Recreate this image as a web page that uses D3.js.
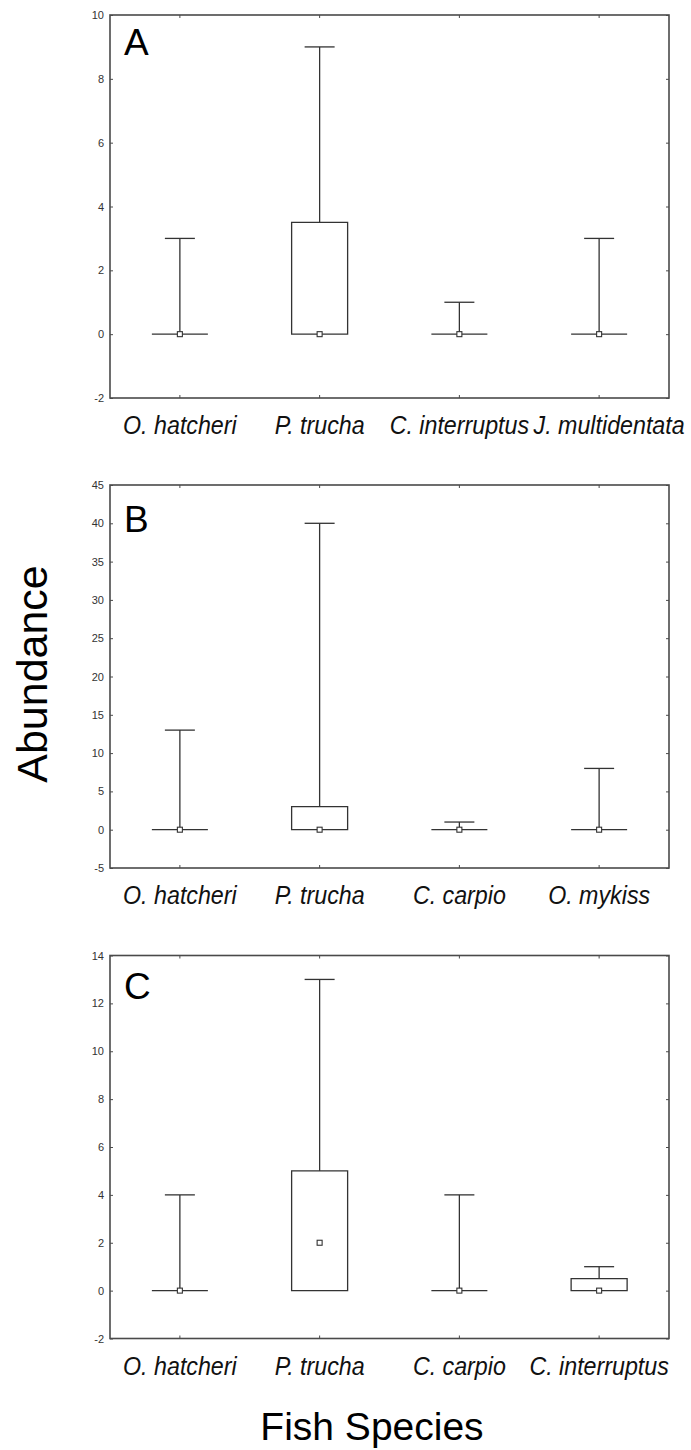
<!DOCTYPE html>
<html>
<head>
<meta charset="utf-8">
<script src="https://cdnjs.cloudflare.com/ajax/libs/d3/7.8.5/d3.min.js"></script>
<style>
  body { margin: 0; background: #fff; }
  svg { display: block; font-family: "Liberation Sans", Arial, sans-serif; }
</style>
</head>
<body>
<div id="chart"></div>
<script>
// panel letters and categories
var panelNames = ["A", "B", "C"];
var speciesA = ["O. hatcheri", "P. trucha", "C. interruptus", "J. multidentata"];
var speciesB = ["O. hatcheri", "P. trucha", "C. carpio", "O. mykiss"];
var speciesC = ["O. hatcheri", "P. trucha", "C. carpio", "C. interruptus"];

// y tick labels for each panel
var ticksA = [-2, 0, 2, 4, 6, 8, 10];
var ticksB = [-5, 0, 5, 10, 15, 20, 25, 30, 35, 40, 45];
var ticksC = [-2, 0, 2, 4, 6, 8, 10, 12, 14];

// box stats: min, q1, median, q3, max
var minA = [0, 0, 0, 0], q1A = [0, 0, 0, 0], medA = [0, 0, 0, 0], q3A = [0, 3.5, 0, 0], maxA = [3, 9, 1, 3];
var minB = [0, 0, 0, 0], q1B = [0, 0, 0, 0], medB = [0, 0, 0, 0], q3B = [0, 3, 0, 0], maxB = [13, 40, 1, 8];
var minC = [0, 0, 0, 0], q1C = [0, 0, 0, 0], medC = [0, 2, 0, 0], q3C = [0, 5, 0, 0.5], maxC = [4, 13, 4, 1];

var panels = [
  { name: panelNames[0], species: speciesA, ticks: ticksA, min: minA, q1: q1A, med: medA, q3: q3A, max: maxA },
  { name: panelNames[1], species: speciesB, ticks: ticksB, min: minB, q1: q1B, med: medB, q3: q3B, max: maxB },
  { name: panelNames[2], species: speciesC, ticks: ticksC, min: minC, q1: q1C, med: medC, q3: q3C, max: maxC }
];

var W = 691, H = 1450;
var left = 110, right = 669, panelH = 383;
var tops = [15, 485, 955.5];
var letterDy = [40, 47, 43];
var labelDx = [[0, 0, 0, 10], [0, 0, 0, 0], [0, 0, 0, 0]]; // last label in A is nudged right, as in the source
var boxW = 56, capW = 30, tickLen = 3;
var lineCol = "#333", frameCol = "#4a4a4a";

var svg = d3.select("#chart").append("svg")
  .attr("width", W)
  .attr("height", H);

panels.forEach(function (p, i) {
  var top = tops[i];
  var g = svg.append("g").attr("class", "panel");

  var x = d3.scaleBand()
    .domain(p.species)
    .range([left, right]);

  var y = d3.scaleLinear()
    .domain([p.ticks[0], p.ticks[p.ticks.length - 1]])
    .range([top + panelH, top]);

  var cx = function (d) { return x(d) + x.bandwidth() / 2; };

  // tick marks on all four sides, pointing inward
  var yAxisL = d3.axisLeft(y).tickValues(p.ticks).tickSize(-tickLen).tickPadding(6)
    .tickFormat(function (d) { return String(d); });
  var gL = g.append("g").attr("transform", "translate(" + left + ",0)").call(yAxisL);
  gL.select(".domain").remove();
  gL.selectAll("line").attr("stroke", frameCol);
  gL.selectAll("text").attr("font-size", 11).attr("fill", "#333")
    .attr("font-family", "'Liberation Sans', Arial, sans-serif");

  var gR = g.append("g").attr("transform", "translate(" + right + ",0)")
    .call(d3.axisRight(y).tickValues(p.ticks).tickSize(-tickLen).tickFormat(""));
  gR.select(".domain").remove();
  gR.selectAll("line").attr("stroke", frameCol);

  var gB = g.append("g").attr("transform", "translate(0," + (top + panelH) + ")")
    .call(d3.axisBottom(x).tickSize(-tickLen).tickFormat(""));
  gB.select(".domain").remove();
  gB.selectAll("line").attr("stroke", frameCol);

  var gT = g.append("g").attr("transform", "translate(0," + top + ")")
    .call(d3.axisTop(x).tickSize(-tickLen).tickFormat(""));
  gT.select(".domain").remove();
  gT.selectAll("line").attr("stroke", frameCol);

  // frame
  g.append("rect")
    .attr("x", left).attr("y", top)
    .attr("width", right - left).attr("height", panelH)
    .attr("fill", "none")
    .attr("stroke", frameCol)
    .attr("stroke-width", 1.6);

  var rows = p.species.map(function (s, k) {
    return { s: s, min: p.min[k], q1: p.q1[k], med: p.med[k], q3: p.q3[k], max: p.max[k] };
  });

  var b = g.selectAll(".box").data(rows).enter().append("g").attr("class", "box");

  // whisker
  b.append("line")
    .attr("x1", function (d) { return cx(d.s); })
    .attr("x2", function (d) { return cx(d.s); })
    .attr("y1", function (d) { return y(d.q3); })
    .attr("y2", function (d) { return y(d.max); })
    .attr("stroke", lineCol).attr("stroke-width", 1.3);

  b.append("line")
    .attr("x1", function (d) { return cx(d.s) - capW / 2; })
    .attr("x2", function (d) { return cx(d.s) + capW / 2; })
    .attr("y1", function (d) { return y(d.max); })
    .attr("y2", function (d) { return y(d.max); })
    .attr("stroke", lineCol).attr("stroke-width", 1.3);

  // box as a path so a flat box (q1 == q3) still shows as a line
  b.append("path")
    .attr("d", function (d) {
      var x0 = cx(d.s) - boxW / 2, x1 = cx(d.s) + boxW / 2;
      return "M" + x0 + "," + y(d.q1) + "H" + x1 + "V" + y(d.q3) + "H" + x0 + "Z";
    })
    .attr("fill", "none")
    .attr("stroke", lineCol).attr("stroke-width", 1.3);

  // median marker
  b.append("rect")
    .attr("x", function (d) { return cx(d.s) - 2.5; })
    .attr("y", function (d) { return y(d.med) - 2.5; })
    .attr("width", 5).attr("height", 5)
    .attr("fill", "#fff")
    .attr("stroke", lineCol).attr("stroke-width", 1.1);

  // category labels
  g.selectAll(".cat").data(p.species).enter().append("text")
    .attr("class", "cat")
    .attr("transform", function (d, k) {
      return "translate(" + (cx(d) + labelDx[i][k]) + "," + (top + panelH + 36) + ") scale(0.93,1)";
    })
    .attr("text-anchor", "middle")
    .attr("font-size", 25)
    .attr("font-style", "italic")
    .attr("fill", "#111")
    .text(function (d) { return d; });

  // panel letter
  g.append("text")
    .attr("x", 124)
    .attr("y", top + letterDy[i])
    .attr("font-size", 37)
    .attr("fill", "#000")
    .text(p.name);
});

svg.append("text")
  .attr("transform", "translate(47,674) rotate(-90)")
  .attr("text-anchor", "middle")
  .attr("font-size", 43)
  .attr("fill", "#000")
  .text("Abundance");

svg.append("text")
  .attr("x", 372)
  .attr("y", 1440)
  .attr("text-anchor", "middle")
  .attr("font-size", 39)
  .attr("fill", "#000")
  .text("Fish Species");
</script>
</body>
</html>
